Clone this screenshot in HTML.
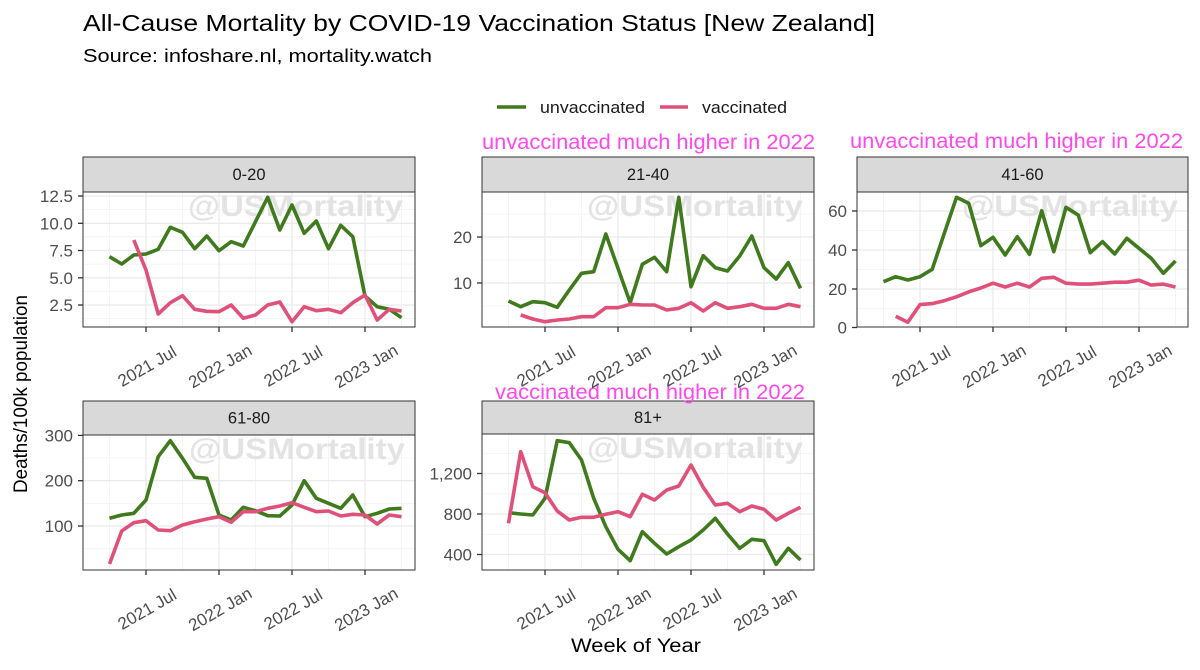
<!DOCTYPE html>
<html>
<head>
<meta charset="utf-8">
<style>
  html,body{margin:0;padding:0;background:#fff;}
  svg{display:block;font-family:"Liberation Sans",Arial,sans-serif;}
  .tk{font-size:17px;fill:#4d4d4d;}
  .st{font-size:16.5px;fill:#1a1a1a;text-anchor:middle;}
  .wm{font-size:30px;font-weight:bold;fill:#dedede;fill-opacity:0.85;}
  .mg{font-size:21px;fill:#ff47ec;}
  .g{fill:none;stroke:#3f7a1d;stroke-width:3.6;stroke-linejoin:round;stroke-linecap:butt;}
  .p{fill:none;stroke:#e0517a;stroke-width:3.6;stroke-linejoin:round;stroke-linecap:butt;}
  .gmaj{stroke:#ebebeb;stroke-width:1.3;}
  .gmin{stroke:#f2f2f2;stroke-width:0.8;}
  .bd{fill:none;stroke:#333;stroke-width:1;}
  .strip{fill:#d9d9d9;stroke:#333;stroke-width:1;}
  .tm{stroke:#333;stroke-width:1.3;}
</style>
</head>
<body>
<svg width="1200" height="670" viewBox="0 0 1200 670" xmlns="http://www.w3.org/2000/svg">
<rect width="1200" height="670" fill="#fff"/>

<!-- Titles -->
<text x="83" y="31" font-size="23" fill="#000" textLength="792" lengthAdjust="spacingAndGlyphs">All-Cause Mortality by COVID-19 Vaccination Status [New Zealand]</text>
<text x="83" y="62" font-size="18" fill="#000" textLength="349" lengthAdjust="spacingAndGlyphs">Source: infoshare.nl, mortality.watch</text>

<!-- Legend -->
<line x1="497" y1="107" x2="526" y2="107" stroke="#3f7a1d" stroke-width="3.6"/>
<text x="540" y="113" font-size="17" fill="#1a1a1a" textLength="105" lengthAdjust="spacingAndGlyphs">unvaccinated</text>
<line x1="660" y1="107" x2="688" y2="107" stroke="#e0517a" stroke-width="3.6"/>
<text x="702" y="113" font-size="17" fill="#1a1a1a" textLength="85" lengthAdjust="spacingAndGlyphs">vaccinated</text>

<!-- ============ PANEL 1 (0-20) ============ -->
<g>
  <rect x="83" y="192" width="332" height="135" fill="#fff"/>
  <g class="gmin">
    <line x1="83" x2="415" y1="318.6" y2="318.6"/><line x1="83" x2="415" y1="291.4" y2="291.4"/>
    <line x1="83" x2="415" y1="264.1" y2="264.1"/><line x1="83" x2="415" y1="236.9" y2="236.9"/>
    <line x1="83" x2="415" y1="209.6" y2="209.6"/>
    <line x1="109.5" x2="109.5" y1="192" y2="327"/><line x1="182.5" x2="182.5" y1="192" y2="327"/>
    <line x1="255.5" x2="255.5" y1="192" y2="327"/><line x1="328.5" x2="328.5" y1="192" y2="327"/>
    <line x1="401.5" x2="401.5" y1="192" y2="327"/>
  </g>
  <g class="gmaj">
    <line x1="83" x2="415" y1="305" y2="305"/><line x1="83" x2="415" y1="277.8" y2="277.8"/>
    <line x1="83" x2="415" y1="250.5" y2="250.5"/><line x1="83" x2="415" y1="223.3" y2="223.3"/>
    <line x1="83" x2="415" y1="196" y2="196"/>
    <line x1="146" x2="146" y1="192" y2="327"/><line x1="219" x2="219" y1="192" y2="327"/>
    <line x1="292" x2="292" y1="192" y2="327"/><line x1="365" x2="365" y1="192" y2="327"/>
  </g>
  <text class="wm" x="188" y="216" textLength="215" lengthAdjust="spacingAndGlyphs">@USMortality</text>
  <polyline class="g" points="109.5,256.7 121.7,264 133.8,255 146,254 158.2,249.3 170.3,227.3 182.5,232.3 194.7,248.7 206.8,236 219,250.7 231.2,241.7 243.3,246 255.5,221.7 267.7,197.3 279.8,230 292,205 304.2,233.3 316.3,221 328.5,248.7 340.7,225.3 352.8,236.7 365,296 377.2,306.7 389.3,309.3 401.5,317.7"/>
  <polyline class="p" points="133.8,240 146,270 158.2,314 170.3,302.7 182.5,295.7 194.7,309.3 206.8,311.3 219,311.7 231.2,305 243.3,318.3 255.5,315 267.7,305 279.8,302 292,321.7 304.2,306.7 316.3,310.7 328.5,309.3 340.7,312.7 352.8,302.7 365,295 377.2,320 389.3,309.3 401.5,311"/>
  <rect class="bd" x="83" y="192" width="332" height="135"/>
  <rect class="strip" x="83" y="157" width="332" height="35"/>
  <text class="st" x="249" y="180">0-20</text>
  <g class="tm">
    <line x1="78" x2="83" y1="305" y2="305"/><line x1="78" x2="83" y1="277.8" y2="277.8"/>
    <line x1="78" x2="83" y1="250.5" y2="250.5"/><line x1="78" x2="83" y1="223.3" y2="223.3"/>
    <line x1="78" x2="83" y1="196" y2="196"/>
    <line x1="146" x2="146" y1="327" y2="332"/><line x1="219" x2="219" y1="327" y2="332"/>
    <line x1="292" x2="292" y1="327" y2="332"/><line x1="365" x2="365" y1="327" y2="332"/>
  </g>
  <g class="tk" text-anchor="end">
    <text x="73" y="311">2.5</text><text x="73" y="283.8">5.0</text>
    <text x="73" y="256.5">7.5</text><text x="73" y="229.3">10.0</text>
    <text x="73" y="202">12.5</text>
  </g>
  <g class="tk" text-anchor="middle">
    <text transform="translate(147,366) rotate(-30)" dy="6">2021 Jul</text>
    <text transform="translate(220,366) rotate(-30)" dy="6">2022 Jan</text>
    <text transform="translate(293,366) rotate(-30)" dy="6">2022 Jul</text>
    <text transform="translate(366,366) rotate(-30)" dy="6">2023 Jan</text>
  </g>
</g>

<!-- ============ PANEL 2 (21-40) ============ -->
<g>
  <rect x="482" y="192" width="332" height="135" fill="#fff"/>
  <g class="gmin">
    <line x1="482" x2="814" y1="306" y2="306"/><line x1="482" x2="814" y1="260" y2="260"/>
    <line x1="482" x2="814" y1="214" y2="214"/>
    <line x1="508.5" x2="508.5" y1="192" y2="327"/><line x1="581.5" x2="581.5" y1="192" y2="327"/>
    <line x1="654.5" x2="654.5" y1="192" y2="327"/><line x1="727.5" x2="727.5" y1="192" y2="327"/>
    <line x1="800.5" x2="800.5" y1="192" y2="327"/>
  </g>
  <g class="gmaj">
    <line x1="482" x2="814" y1="283" y2="283"/><line x1="482" x2="814" y1="237" y2="237"/>
    <line x1="545" x2="545" y1="192" y2="327"/><line x1="618" x2="618" y1="192" y2="327"/>
    <line x1="691" x2="691" y1="192" y2="327"/><line x1="764" x2="764" y1="192" y2="327"/>
  </g>
  <text class="wm" x="587" y="216" textLength="216" lengthAdjust="spacingAndGlyphs">@USMortality</text>
  <polyline class="g" points="508.5,301 520.7,306.7 532.8,301.7 545,302.7 557.2,307.3 569.3,290 581.5,273.3 593.7,271.7 605.8,234 618,268.3 630.2,302.7 642.3,264.3 654.5,257.3 666.7,271.7 678.8,197.3 691,286.7 703.2,255.7 715.3,267.7 727.5,271 739.7,256 751.8,236 764,267.7 776.2,279 788.3,262.7 800.5,288.3"/>
  <polyline class="p" points="520.7,315 532.8,319 545,321.7 557.2,320 569.3,319 581.5,316.7 593.7,316.7 605.8,307.7 618,307.7 630.2,304.3 642.3,305 654.5,305 666.7,310 678.8,308.3 691,302.7 703.2,311 715.3,302.7 727.5,308.3 739.7,306.7 751.8,304.3 764,308.3 776.2,308.3 788.3,304.3 800.5,306.7"/>
  <rect class="bd" x="482" y="192" width="332" height="135"/>
  <rect class="strip" x="482" y="157" width="332" height="35"/>
  <text class="st" x="648" y="180">21-40</text>
  <g class="tm">
    <line x1="477" x2="482" y1="283" y2="283"/><line x1="477" x2="482" y1="237" y2="237"/>
    <line x1="545" x2="545" y1="327" y2="332"/><line x1="618" x2="618" y1="327" y2="332"/>
    <line x1="691" x2="691" y1="327" y2="332"/><line x1="764" x2="764" y1="327" y2="332"/>
  </g>
  <g class="tk" text-anchor="end">
    <text x="472" y="289">10</text><text x="472" y="243">20</text>
  </g>
  <text class="mg" x="482" y="149" textLength="333" lengthAdjust="spacingAndGlyphs">unvaccinated much higher in 2022</text>
</g>

<!-- ============ PANEL 3 (41-60) ============ -->
<g>
  <rect x="857" y="192" width="331" height="135" fill="#fff"/>
  <g class="gmin">
    <line x1="857" x2="1188" y1="308.5" y2="308.5"/><line x1="857" x2="1188" y1="269.5" y2="269.5"/>
    <line x1="857" x2="1188" y1="230.5" y2="230.5"/>
    <line x1="883.5" x2="883.5" y1="192" y2="327"/><line x1="956.5" x2="956.5" y1="192" y2="327"/>
    <line x1="1029.5" x2="1029.5" y1="192" y2="327"/><line x1="1102.5" x2="1102.5" y1="192" y2="327"/>
    <line x1="1175.5" x2="1175.5" y1="192" y2="327"/>
  </g>
  <g class="gmaj">
    <line x1="857" x2="1188" y1="289" y2="289"/><line x1="857" x2="1188" y1="250" y2="250"/>
    <line x1="857" x2="1188" y1="211" y2="211"/>
    <line x1="920" x2="920" y1="192" y2="327"/><line x1="993" x2="993" y1="192" y2="327"/>
    <line x1="1066" x2="1066" y1="192" y2="327"/><line x1="1139" x2="1139" y1="192" y2="327"/>
  </g>
  <text class="wm" x="962" y="216" textLength="216" lengthAdjust="spacingAndGlyphs">@USMortality</text>
  <polyline class="g" points="883.5,281.7 895.7,276.7 907.8,280 920,276.7 932.2,269.3 944.3,233.3 956.5,197.3 968.7,203.3 980.8,245.7 993,237.3 1005.2,255 1017.3,236.7 1029.5,254.3 1041.7,210.7 1053.8,251.7 1066,207.3 1078.2,215 1090.3,252.7 1102.5,241.7 1114.7,254 1126.8,238.3 1139,248.3 1151.2,258.3 1163.3,273.3 1175.5,261"/>
  <polyline class="p" points="895.7,316.3 907.8,322.2 920,304.6 932.2,303.6 944.3,300.7 956.5,296.8 968.7,291.9 980.8,288 993,283.2 1005.2,287 1017.3,283.2 1029.5,287 1041.7,278.3 1053.8,277.3 1066,283.2 1078.2,284.1 1090.3,284.1 1102.5,283.2 1114.7,282.2 1126.8,282.2 1139,280.2 1151.2,285.1 1163.3,284.1 1175.5,287"/>
  <rect class="bd" x="857" y="192" width="331" height="135"/>
  <rect class="strip" x="857" y="157" width="331" height="35"/>
  <text class="st" x="1022.5" y="180">41-60</text>
  <g class="tm">
    <line x1="852" x2="857" y1="327.5" y2="327.5"/><line x1="852" x2="857" y1="289" y2="289"/>
    <line x1="852" x2="857" y1="250" y2="250"/><line x1="852" x2="857" y1="211" y2="211"/>
    <line x1="920" x2="920" y1="327" y2="332"/><line x1="993" x2="993" y1="327" y2="332"/>
    <line x1="1066" x2="1066" y1="327" y2="332"/><line x1="1139" x2="1139" y1="327" y2="332"/>
  </g>
  <g class="tk" text-anchor="end">
    <text x="847" y="333.5">0</text><text x="847" y="295">20</text>
    <text x="847" y="256">40</text><text x="847" y="217">60</text>
  </g>
  <g class="tk" text-anchor="middle">
    <text transform="translate(921,366) rotate(-30)" dy="6">2021 Jul</text>
    <text transform="translate(994,366) rotate(-30)" dy="6">2022 Jan</text>
    <text transform="translate(1067,366) rotate(-30)" dy="6">2022 Jul</text>
    <text transform="translate(1140,366) rotate(-30)" dy="6">2023 Jan</text>
  </g>
  <text class="mg" x="850" y="148" textLength="333" lengthAdjust="spacingAndGlyphs">unvaccinated much higher in 2022</text>
</g>

<!-- ============ PANEL 4 (61-80) ============ -->
<g>
  <rect x="83" y="435" width="332" height="135" fill="#fff"/>
  <g class="gmin">
    <line x1="83" x2="415" y1="548.7" y2="548.7"/><line x1="83" x2="415" y1="503.4" y2="503.4"/>
    <line x1="83" x2="415" y1="458" y2="458"/>
    <line x1="109.5" x2="109.5" y1="435" y2="570"/><line x1="182.5" x2="182.5" y1="435" y2="570"/>
    <line x1="255.5" x2="255.5" y1="435" y2="570"/><line x1="328.5" x2="328.5" y1="435" y2="570"/>
    <line x1="401.5" x2="401.5" y1="435" y2="570"/>
  </g>
  <g class="gmaj">
    <line x1="83" x2="415" y1="526" y2="526"/><line x1="83" x2="415" y1="480.7" y2="480.7"/>
    <line x1="146" x2="146" y1="435" y2="570"/><line x1="219" x2="219" y1="435" y2="570"/>
    <line x1="292" x2="292" y1="435" y2="570"/><line x1="365" x2="365" y1="435" y2="570"/>
  </g>
  <text class="wm" x="189" y="459" textLength="216" lengthAdjust="spacingAndGlyphs">@USMortality</text>
  <polyline class="g" points="109.5,518.3 121.7,515 133.8,513.3 146,500 158.2,456.7 170.3,440.7 182.5,458.3 194.7,477.3 206.8,478.3 219,515 231.2,520 243.3,507.3 255.5,510.7 267.7,515.7 279.8,516 292,505 304.2,480.7 316.3,498.3 328.5,503.3 340.7,508.3 352.8,495 365,516.7 377.2,513.3 389.3,509 401.5,508.3"/>
  <polyline class="p" points="109.5,564 121.7,531 133.8,522.7 146,520.7 158.2,530 170.3,530.7 182.5,525 194.7,521.7 206.8,519 219,516.7 231.2,522.3 243.3,511.7 255.5,511.7 267.7,508.3 279.8,506 292,502.7 304.2,507.3 316.3,511.7 328.5,511 340.7,516 352.8,514.3 365,515 377.2,524 389.3,515 401.5,516.7"/>
  <rect class="bd" x="83" y="435" width="332" height="135"/>
  <rect class="strip" x="83" y="401" width="332" height="34"/>
  <text class="st" x="249" y="423.5">61-80</text>
  <g class="tm">
    <line x1="78" x2="83" y1="526" y2="526"/><line x1="78" x2="83" y1="480.7" y2="480.7"/>
    <line x1="78" x2="83" y1="435.4" y2="435.4"/>
    <line x1="146" x2="146" y1="570" y2="575"/><line x1="219" x2="219" y1="570" y2="575"/>
    <line x1="292" x2="292" y1="570" y2="575"/><line x1="365" x2="365" y1="570" y2="575"/>
  </g>
  <g class="tk" text-anchor="end">
    <text x="73" y="532">100</text><text x="73" y="486.7">200</text><text x="73" y="441.5">300</text>
  </g>
  <g class="tk" text-anchor="middle">
    <text transform="translate(147,609) rotate(-30)" dy="6">2021 Jul</text>
    <text transform="translate(220,609) rotate(-30)" dy="6">2022 Jan</text>
    <text transform="translate(293,609) rotate(-30)" dy="6">2022 Jul</text>
    <text transform="translate(366,609) rotate(-30)" dy="6">2023 Jan</text>
  </g>
</g>

<!-- ============ PANEL 5 (81+) ============ -->
<g>
  <rect x="482" y="434" width="332" height="136" fill="#fff"/>
  <g class="gmin">
    <line x1="482" x2="814" y1="534.3" y2="534.3"/><line x1="482" x2="814" y1="493.8" y2="493.8"/>
    <line x1="482" x2="814" y1="453.3" y2="453.3"/>
    <line x1="508.5" x2="508.5" y1="434" y2="570"/><line x1="581.5" x2="581.5" y1="434" y2="570"/>
    <line x1="654.5" x2="654.5" y1="434" y2="570"/><line x1="727.5" x2="727.5" y1="434" y2="570"/>
    <line x1="800.5" x2="800.5" y1="434" y2="570"/>
  </g>
  <g class="gmaj">
    <line x1="482" x2="814" y1="554.5" y2="554.5"/><line x1="482" x2="814" y1="514" y2="514"/>
    <line x1="482" x2="814" y1="473.5" y2="473.5"/>
    <line x1="545" x2="545" y1="434" y2="570"/><line x1="618" x2="618" y1="434" y2="570"/>
    <line x1="691" x2="691" y1="434" y2="570"/><line x1="764" x2="764" y1="434" y2="570"/>
  </g>
  <text class="wm" x="587" y="458" textLength="216" lengthAdjust="spacingAndGlyphs">@USMortality</text>
  <polyline class="g" points="508.5,512.7 520.7,514 532.8,515 545,498.3 557.2,440.7 569.3,442.7 581.5,460 593.7,498.3 605.8,526.7 618,549.3 630.2,560.7 642.3,531.7 654.5,543.3 666.7,554 678.8,546.7 691,540 703.2,530 715.3,518.3 727.5,534 739.7,548.3 751.8,539.3 764,540.7 776.2,564.3 788.3,548.3 800.5,560"/>
  <polyline class="p" points="508.5,523.3 520.7,451.7 532.8,486.7 545,492.7 557.2,511 569.3,520 581.5,517.3 593.7,517.3 605.8,514.3 618,511.7 630.2,516.7 642.3,494.3 654.5,500 666.7,490 678.8,486 691,465 703.2,487.3 715.3,505 727.5,503.3 739.7,511.7 751.8,506 764,509.3 776.2,520 788.3,513.3 800.5,507.3"/>
  <rect class="bd" x="482" y="434" width="332" height="136"/>
  <rect class="strip" x="482" y="401" width="332" height="33"/>
  <text class="st" x="648" y="423">81+</text>
  <g class="tm">
    <line x1="477" x2="482" y1="554.5" y2="554.5"/><line x1="477" x2="482" y1="514" y2="514"/>
    <line x1="477" x2="482" y1="473.5" y2="473.5"/>
    <line x1="545" x2="545" y1="570" y2="575"/><line x1="618" x2="618" y1="570" y2="575"/>
    <line x1="691" x2="691" y1="570" y2="575"/><line x1="764" x2="764" y1="570" y2="575"/>
  </g>
  <g class="tk" text-anchor="end">
    <text x="472" y="560.5">400</text><text x="472" y="520">800</text><text x="472" y="479.5">1,200</text>
  </g>
  <g class="tk" text-anchor="middle">
    <text transform="translate(546,609) rotate(-30)" dy="6">2021 Jul</text>
    <text transform="translate(619,609) rotate(-30)" dy="6">2022 Jan</text>
    <text transform="translate(692,609) rotate(-30)" dy="6">2022 Jul</text>
    <text transform="translate(765,609) rotate(-30)" dy="6">2023 Jan</text>
  </g>
  <text class="mg" x="495" y="399" textLength="310" lengthAdjust="spacingAndGlyphs">vaccinated much higher in 2022</text>
</g>

<!-- Panel 2 x tick labels drawn last (they overlap the annotation) -->
<g class="tk" text-anchor="middle">
  <text transform="translate(546,366) rotate(-30)" dy="6">2021 Jul</text>
  <text transform="translate(619,366) rotate(-30)" dy="6">2022 Jan</text>
  <text transform="translate(692,366) rotate(-30)" dy="6">2022 Jul</text>
  <text transform="translate(765,366) rotate(-30)" dy="6">2023 Jan</text>
</g>

<!-- Axis titles -->
<text transform="translate(27,394) rotate(-90)" text-anchor="middle" font-size="19" fill="#000" textLength="198" lengthAdjust="spacingAndGlyphs">Deaths/100k population</text>
<text x="636" y="652" text-anchor="middle" font-size="19" fill="#000" textLength="130" lengthAdjust="spacingAndGlyphs">Week of Year</text>
</svg>
</body>
</html>
